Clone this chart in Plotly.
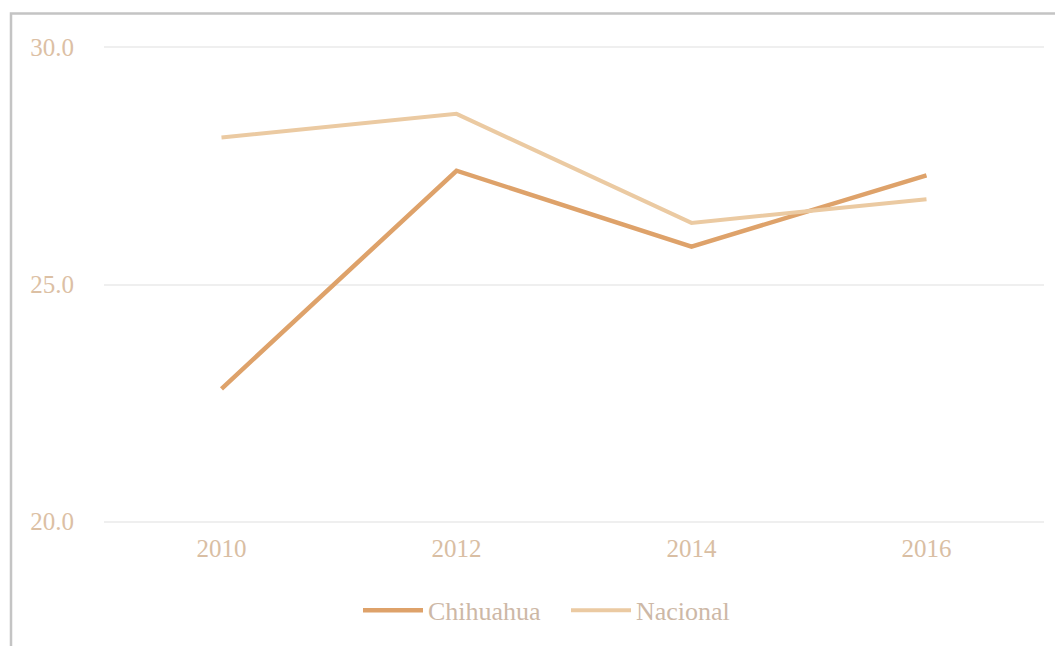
import plotly.graph_objects as go

years = ["2010", "2012", "2014", "2016"]
chihuahua = [22.8, 27.4, 25.8, 27.3]
nacional = [28.1, 28.6, 26.3, 26.8]
y_ticks = [20.0, 25.0, 30.0]
y_tick_labels = ["20.0", "25.0", "30.0"]

fig = go.Figure()
fig.add_trace(go.Scatter(x=years, y=chihuahua, mode="lines", name="Chihuahua",
                         line=dict(color="#dea26a", width=4.5)))
fig.add_trace(go.Scatter(x=years, y=nacional, mode="lines", name="Nacional",
                         line=dict(color="#ebcaa2", width=4)))

OFF = 8  # page body margin
W, H = 1063 - OFF, 646 - OFF
PAD = 0.2  # y-range padding so edge gridlines are drawn
unit = 47.5
L, T = 104 - OFF, 47 - OFF - PAD * unit
pw, ph = 940, 475 + 2 * PAD * unit
R, B = W - L - pw, H - T - ph

def px_x(px):
    return (px - OFF - L) / pw

def px_y(py):
    return (H - B - (py - OFF)) / ph

fig.add_shape(type="rect", xref="paper", yref="paper",
              x0=px_x(11), x1=px_x(1080), y0=px_y(670), y1=px_y(13),
              line=dict(color="#c4c4c4", width=2.5), fillcolor="rgba(0,0,0,0)", layer="below")

fig.update_layout(
    width=W, height=H,
    margin=dict(l=L, r=R, t=T, b=B),
    paper_bgcolor="white", plot_bgcolor="white",
    font=dict(family="Liberation Serif, DejaVu Serif, serif", size=26, color="#d9bea3"),
    showlegend=True,
    legend=dict(orientation="h", x=px_x(358), xanchor="left", y=px_y(611), yanchor="middle",
                font=dict(size=26, color="#cdb8a6"), itemwidth=60,
                entrywidth=133, entrywidthmode="pixels",
                bgcolor="rgba(0,0,0,0)"),
    xaxis=dict(type="category", range=[-0.5, 3.5], showgrid=False, zeroline=False, showline=False,
               ticks="", tickfont=dict(size=25, color="#d9bea3")),
    yaxis=dict(range=[20 - PAD, 30 + PAD], tickvals=y_ticks, ticktext=y_tick_labels,
               showgrid=True, gridcolor="#efefef", gridwidth=1.5, zeroline=False,
               showline=False, ticks="outside", ticklen=24, tickcolor="rgba(0,0,0,0)",
               tickfont=dict(size=25, color="#dcc0a4")),
)

fig.write_html("out.html")
